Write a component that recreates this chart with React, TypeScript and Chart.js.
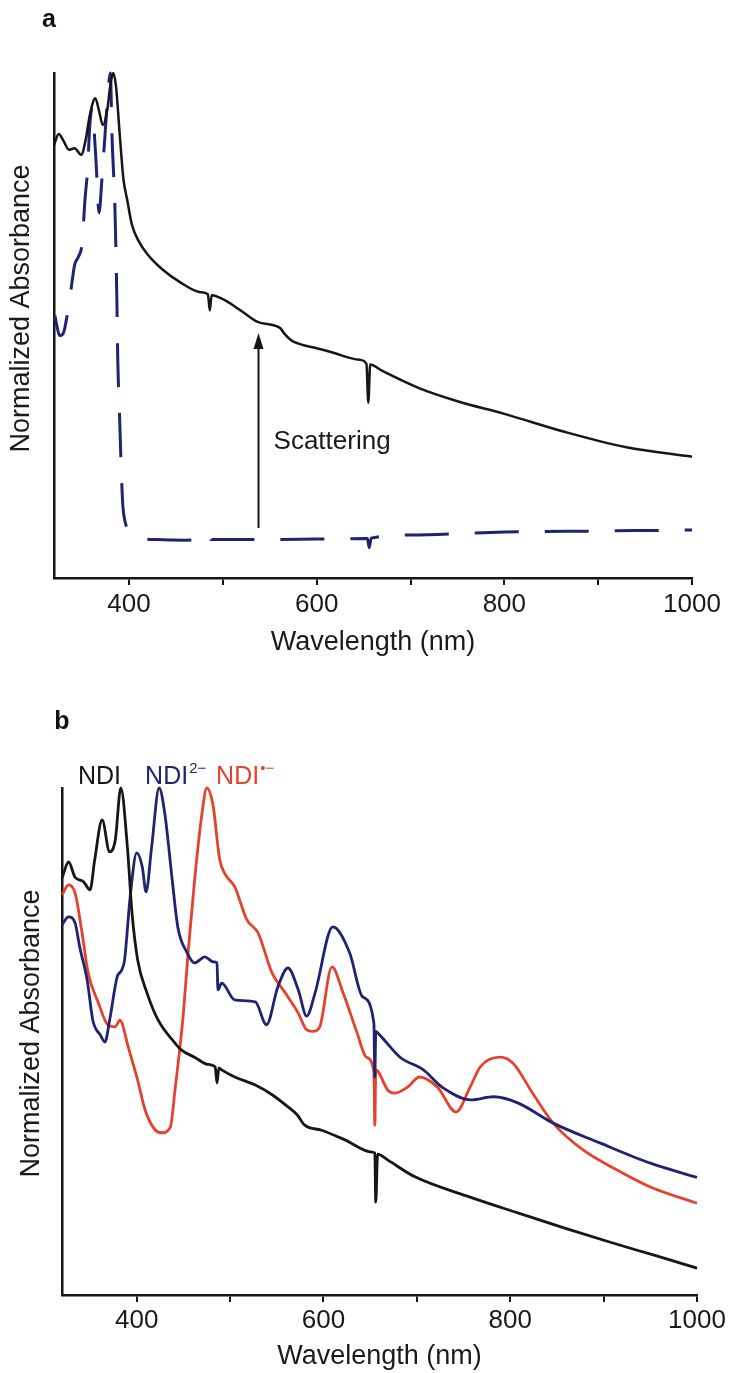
import React, { useEffect, useRef } from "react";
import { Chart, registerables } from "chart.js";

Chart.register(...registerables);

// ---------- shared axis data ----------
const xMin = 320;
const xMax = 1000;
const xTickValues = [400, 500, 600, 700, 800, 900, 1000];
const xTickLabels = ["400", "", "600", "", "800", "", "1000"];

// ---------- panel a ----------
// NDI aggregate (black, with scattering)
const aAggWavelength = [320, 325, 330, 336, 342, 349, 354, 358, 364, 368, 372, 377, 380, 383, 386, 390, 394, 398, 403, 410, 420, 435, 455, 476, 484, 486, 488, 500, 518, 537, 555, 561, 566, 572, 579, 600, 614, 646, 653, 655, 657, 670, 709, 750, 800, 865, 930, 1000];
const aAggAbsorbance = [0.857, 0.879, 0.866, 0.848, 0.851, 0.838, 0.870, 0.915, 0.950, 0.925, 0.897, 0.930, 0.975, 1.0, 0.975, 0.880, 0.790, 0.749, 0.700, 0.668, 0.640, 0.612, 0.585, 0.566, 0.562, 0.530, 0.560, 0.552, 0.531, 0.507, 0.500, 0.495, 0.483, 0.472, 0.465, 0.455, 0.448, 0.432, 0.424, 0.347, 0.423, 0.410, 0.376, 0.350, 0.325, 0.289, 0.259, 0.240];
// NDI molecularly dissolved (navy dashed)
const aSolWavelength = [321, 323, 326, 330, 334, 338, 342, 346, 350, 353, 356, 358, 361, 363, 365, 368, 371, 374, 377, 380, 382, 385, 387, 388, 390, 393, 396, 400, 407, 430, 460, 485, 486, 487, 520, 600, 654, 656, 658, 700, 800, 900, 1000];
const aSolAbsorbance = [0.52, 0.50, 0.48, 0.485, 0.52, 0.57, 0.62, 0.636, 0.663, 0.749, 0.814, 0.893, 0.931, 0.88, 0.818, 0.723, 0.788, 0.867, 0.947, 1.0, 0.867, 0.729, 0.55, 0.43, 0.313, 0.154, 0.11, 0.095, 0.081, 0.076, 0.075, 0.077, 0.085, 0.076, 0.076, 0.077, 0.078, 0.06, 0.079, 0.085, 0.091, 0.093, 0.095];
// arrow + label
const arrowWavelength = 537;
const arrowFrom = 0.099;
const arrowTo = 0.485;
const scatterLabel = "Scattering";
const scatterLabelAt = [554, 0.269];

// ---------- panel b ----------
const bNdiWavelength = [320, 327, 334, 343, 350, 355, 363, 371, 377, 383, 390, 395, 401, 411, 423, 441, 448, 462, 476, 484, 486, 488, 491, 505, 527, 545, 562, 572, 580, 598, 623, 652, 655, 656, 658, 669, 698, 757, 808, 860, 909, 955, 1000];
const bNdiAbsorbance = [0.822, 0.854, 0.824, 0.815, 0.799, 0.858, 0.937, 0.874, 0.897, 1.0, 0.884, 0.753, 0.661, 0.596, 0.542, 0.497, 0.483, 0.469, 0.455, 0.450, 0.418, 0.448, 0.444, 0.430, 0.414, 0.395, 0.371, 0.355, 0.335, 0.325, 0.306, 0.282, 0.280, 0.183, 0.278, 0.266, 0.233, 0.193, 0.162, 0.131, 0.103, 0.078, 0.053];

const bDianionWavelength = [320, 327, 334, 339, 347, 353, 361, 366, 371, 379, 384, 387, 393, 400, 406, 410, 416, 424, 430, 438, 444, 454, 462, 473, 482, 486, 487, 491, 505, 527, 539, 551, 562, 573, 582, 591, 610, 628, 642, 654, 655, 656, 658, 682, 707, 727, 758, 782, 808, 846, 896, 950, 1000];
const bDianionAbsorbance = [0.730, 0.746, 0.734, 0.686, 0.621, 0.542, 0.513, 0.499, 0.542, 0.627, 0.641, 0.661, 0.785, 0.872, 0.844, 0.795, 0.884, 1.0, 0.951, 0.819, 0.726, 0.675, 0.655, 0.667, 0.657, 0.655, 0.602, 0.615, 0.582, 0.578, 0.533, 0.607, 0.645, 0.602, 0.550, 0.596, 0.726, 0.675, 0.588, 0.536, 0.430, 0.520, 0.517, 0.469, 0.444, 0.410, 0.385, 0.391, 0.379, 0.339, 0.300, 0.260, 0.232];

const bRadicalWavelength = [320, 327, 334, 341, 348, 359, 369, 377, 382, 391, 395, 401, 409, 420, 427, 436, 441, 446, 450, 455, 462, 470, 475, 482, 487, 489, 494, 505, 518, 530, 545, 559, 573, 582, 589, 596, 609, 621, 636, 646, 654, 655, 656, 669, 676, 690, 703, 722, 742, 757, 768, 789, 803, 824, 846, 878, 914, 950, 1000];
const bRadicalAbsorbance = [0.789, 0.809, 0.793, 0.720, 0.635, 0.576, 0.533, 0.529, 0.542, 0.489, 0.463, 0.424, 0.365, 0.325, 0.320, 0.331, 0.404, 0.483, 0.556, 0.675, 0.819, 0.951, 1.0, 0.963, 0.884, 0.858, 0.832, 0.805, 0.740, 0.714, 0.635, 0.596, 0.556, 0.523, 0.520, 0.529, 0.647, 0.596, 0.517, 0.469, 0.440, 0.335, 0.444, 0.404, 0.398, 0.410, 0.430, 0.410, 0.361, 0.410, 0.450, 0.469, 0.457, 0.398, 0.339, 0.286, 0.247, 0.213, 0.181];

const bLabelBase = ["NDI", "NDI", "NDI"];
const bLabelSup = ["", "2\u2212", "\u2022\u2212"];
const bLabelWavelength = [337, 409, 485];

// ---------- styles ----------
const FONT = '"Liberation Sans", Arial, Helvetica, sans-serif';
const BLACK = "#161616";
const NAVY = "#1f2370";
const RED = "#e4422f";
const TEXT = "#1a1a1a";

function pts(xs: number[], ys: number[]) {
  return xs.map((x, i) => ({ x, y: ys[i] }));
}

type Layout = {
  yAxisWidth: number;
  padTop: number;
  padRight: number;
  xAxisHeight: number;
  tickPad: number;
  titlePadBottom: number;
};

function makeOptions(l: Layout): any {
  return {
    animation: false,
    responsive: false,
    maintainAspectRatio: false,
    events: [],
    layout: { padding: { left: 0, top: l.padTop, right: l.padRight, bottom: 0 } },
    plugins: { legend: { display: false }, tooltip: { enabled: false }, title: { display: false } },
    elements: {
      point: { radius: 0 },
      line: { cubicInterpolationMode: "monotone", borderJoinStyle: "round", borderCapStyle: "butt" },
    },
    scales: {
      x: {
        type: "linear",
        min: xMin,
        max: xMax,
        afterBuildTicks: (s: any) => {
          s.ticks = xTickValues.map((v) => ({ value: v }));
        },
        afterFit: (s: any) => {
          s.height = l.xAxisHeight;
        },
        ticks: {
          autoSkip: false,
          maxRotation: 0,
          padding: l.tickPad,
          color: TEXT,
          font: { family: FONT, size: 26 },
          callback: (v: number) => {
            const i = xTickValues.indexOf(v);
            return i >= 0 ? xTickLabels[i] : "";
          },
        },
        grid: { display: true, drawOnChartArea: false, drawTicks: true, tickLength: 7, color: BLACK, lineWidth: 2 },
        border: { display: true, color: BLACK, width: 2.5 },
        title: {
          display: true,
          text: "Wavelength (nm)",
          color: TEXT,
          font: { family: FONT, size: 27 },
          padding: { top: 0, bottom: l.titlePadBottom },
        },
      },
      y: {
        type: "linear",
        min: 0,
        max: 1,
        afterFit: (s: any) => {
          s.width = l.yAxisWidth;
        },
        ticks: { display: false },
        grid: { display: false },
        border: { display: true, color: BLACK, width: 2.5 },
      },
    },
  };
}

function drawYTitle(ctx: CanvasRenderingContext2D, cx: number, cy: number) {
  ctx.save();
  ctx.translate(cx, cy);
  ctx.rotate(-Math.PI / 2);
  ctx.font = `27px ${FONT}`;
  ctx.fillStyle = TEXT;
  ctx.textAlign = "center";
  ctx.textBaseline = "middle";
  ctx.fillText("Normalized Absorbance", 0, 0);
  ctx.restore();
}

function drawPanelLetter(ctx: CanvasRenderingContext2D, letter: string, cx: number, cy: number) {
  ctx.save();
  ctx.font = `bold 25px ${FONT}`;
  ctx.fillStyle = "#111";
  ctx.textAlign = "center";
  ctx.textBaseline = "middle";
  ctx.fillText(letter, cx, cy);
  ctx.restore();
}

const panelAPlugin = {
  id: "panelA",
  afterDraw(chart: any) {
    const { ctx, scales, chartArea } = chart;
    const x = scales.x;
    const y = scales.y;
    // arrow
    const ax = Math.round(x.getPixelForValue(arrowWavelength)) + 0.5;
    const yb = y.getPixelForValue(arrowFrom);
    const yt = y.getPixelForValue(arrowTo);
    ctx.save();
    ctx.strokeStyle = BLACK;
    ctx.fillStyle = BLACK;
    ctx.lineWidth = 2;
    ctx.beginPath();
    ctx.moveTo(ax, yb);
    ctx.lineTo(ax, yt + 12);
    ctx.stroke();
    ctx.beginPath();
    ctx.moveTo(ax, yt);
    ctx.lineTo(ax - 5, yt + 16);
    ctx.lineTo(ax + 5, yt + 16);
    ctx.closePath();
    ctx.fill();
    // label
    ctx.font = `26px ${FONT}`;
    ctx.fillStyle = TEXT;
    ctx.textAlign = "left";
    ctx.textBaseline = "middle";
    ctx.fillText(scatterLabel, x.getPixelForValue(scatterLabelAt[0]), y.getPixelForValue(scatterLabelAt[1]));
    ctx.restore();
    drawYTitle(ctx, chartArea.left - 32, (chartArea.top + chartArea.bottom) / 2 - 17);
    drawPanelLetter(ctx, "a", 49, 20);
  },
};

const panelBPlugin = {
  id: "panelB",
  afterDraw(chart: any) {
    const { ctx, scales, chartArea } = chart;
    const x = scales.x;
    const colors = [BLACK, NAVY, RED];
    ctx.save();
    const base = chartArea.top - 4;
    bLabelBase.forEach((t, i) => {
      const px = x.getPixelForValue(bLabelWavelength[i]);
      ctx.fillStyle = colors[i];
      ctx.font = `25px ${FONT}`;
      ctx.textAlign = "left";
      ctx.textBaseline = "alphabetic";
      ctx.fillText(t, px, base);
      const w = ctx.measureText(t).width;
      if (bLabelSup[i]) {
        ctx.font = `15px ${FONT}`;
        ctx.fillText(bLabelSup[i], px + w + 1, base - 11);
      }
    });
    ctx.restore();
    drawYTitle(ctx, chartArea.left - 30, (chartArea.top + chartArea.bottom) / 2 - 8);
    drawPanelLetter(ctx, "b", 62, 32);
  },
};

export default function App() {
  const refA = useRef<HTMLCanvasElement>(null);
  const refB = useRef<HTMLCanvasElement>(null);

  useEffect(() => {
    const charts: Chart[] = [];
    if (refA.current) {
      charts.push(
        new Chart(refA.current, {
          type: "line",
          data: {
            datasets: [
              {
                label: "NDI aggregate",
                data: pts(aAggWavelength, aAggAbsorbance),
                borderColor: BLACK,
                borderWidth: 2.5,
                fill: false,
                clip: 6,
              },
              {
                label: "NDI solution",
                data: pts(aSolWavelength, aSolAbsorbance),
                borderColor: NAVY,
                borderWidth: 3,
                borderDash: [44, 26],
                fill: false,
                clip: 6,
              },
            ],
          },
          options: makeOptions({ yAxisWidth: 54, padTop: 73, padRight: 46, xAxisHeight: 112, tickPad: 4, titlePadBottom: 31 }),
          plugins: [panelAPlugin],
        } as any)
      );
    }
    if (refB.current) {
      charts.push(
        new Chart(refB.current, {
          type: "line",
          data: {
            datasets: [
              { label: "NDI", data: pts(bNdiWavelength, bNdiAbsorbance), borderColor: BLACK, borderWidth: 2.8, fill: false, clip: 6 },
              { label: "NDI2-", data: pts(bDianionWavelength, bDianionAbsorbance), borderColor: NAVY, borderWidth: 2.8, fill: false, clip: 6 },
              { label: "NDI•-", data: pts(bRadicalWavelength, bRadicalAbsorbance), borderColor: RED, borderWidth: 2.8, fill: false, clip: 6 },
            ],
          },
          options: makeOptions({ yAxisWidth: 62, padTop: 98, padRight: 41, xAxisHeight: 78, tickPad: 3, titlePadBottom: 0 }),
          plugins: [panelBPlugin],
        } as any)
      );
    }
    return () => charts.forEach((c) => c.destroy());
  }, []);

  return (
    <div style={{ position: "absolute", left: 0, top: 0, width: 738, height: 1373, background: "#fff" }}>
      <canvas ref={refA} width={738} height={690} style={{ position: "absolute", left: 0, top: 0 }} />
      <canvas ref={refB} width={738} height={683} style={{ position: "absolute", left: 0, top: 690 }} />
    </div>
  );
}
